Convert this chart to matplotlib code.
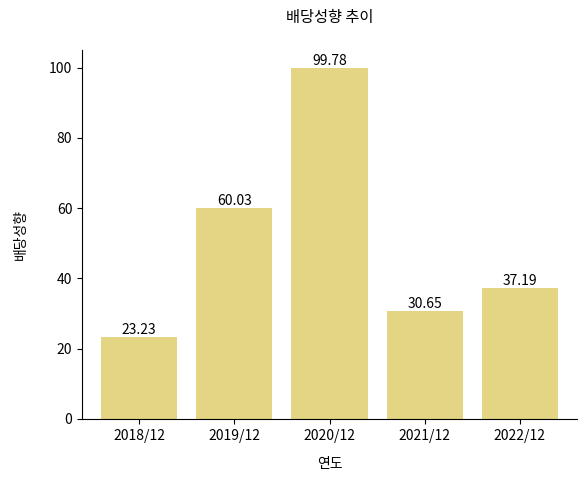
import matplotlib
matplotlib.use("Agg")
import matplotlib.pyplot as plt

plt.rcParams['font.family'] = ['Noto Sans CJK KR', 'DejaVu Sans']

years = ["2018/12", "2019/12", "2020/12", "2021/12", "2022/12"]
payout = [23.23, 60.03, 99.78, 30.65, 37.19]

fig = plt.figure(figsize=(5.86, 4.79), dpi=100)
ax = fig.add_axes([82/586, 60/479, 495/586, 369/479])
bars = ax.bar(years, payout, color="#e4d584", width=0.8)
for b, v in zip(bars, payout):
    ax.text(b.get_x() + b.get_width()/2, v, f"{v:.2f}", ha="center", va="bottom", fontsize=10)
ax.set_ylim(0, 105)
ax.set_xlim(-0.6, 4.6)
ax.spines['top'].set_visible(False)
ax.spines['right'].set_visible(False)
ax.tick_params(labelsize=10)
ax.set_title("배당성향 추이", fontsize=11, pad=20)
ax.set_xlabel("연도", fontsize=10, labelpad=10)
ax.set_ylabel("배당성향", fontsize=10, labelpad=15)
fig.savefig("out.png", dpi=100)
